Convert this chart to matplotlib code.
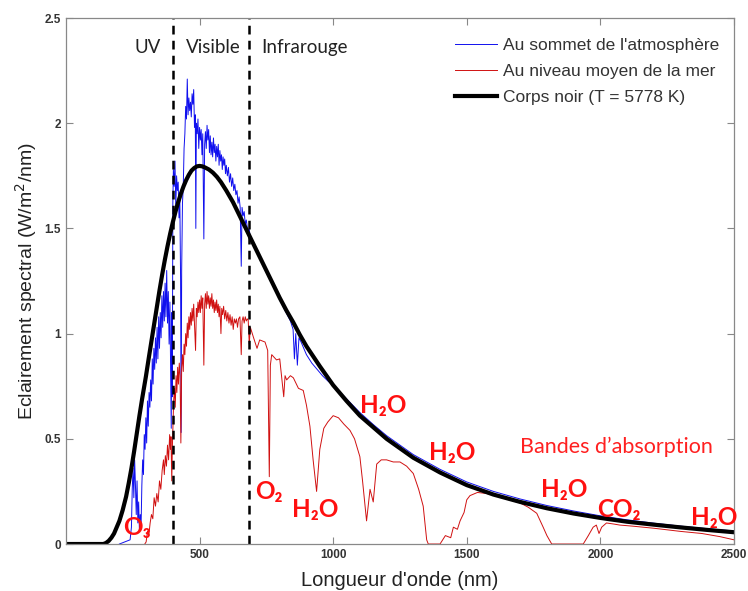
import numpy as np
import matplotlib.pyplot as plt

# corps noir
bb_nm = [0, 140, 150, 160, 170, 180, 190, 200, 212, 225, 235, 245, 255, 265, 275, 285, 299, 310, 320, 330,
         340, 350, 360, 370, 380, 390, 400, 410, 420, 430, 440, 450, 460, 470, 480, 490, 500, 510, 520, 535,
         550, 565, 580, 600, 625, 650, 675, 700, 725, 750, 775, 800, 825, 850, 875, 900, 950, 1000, 1050, 1100,
         1150, 1200, 1250, 1300, 1350, 1400, 1450, 1500, 1600, 1700, 1800, 1900, 2000, 2100, 2200, 2300,
         2400, 2500]
bb_val = [0, 0, 0.005, 0.015, 0.03, 0.05, 0.08, 0.11, 0.16, 0.225, 0.29, 0.36, 0.44, 0.525, 0.61, 0.69,
          0.795, 0.885, 0.965, 1.045, 1.125, 1.205, 1.28, 1.35, 1.415, 1.475, 1.53, 1.58, 1.625, 1.665, 1.70,
          1.73, 1.755, 1.775, 1.787, 1.795, 1.797, 1.795, 1.79, 1.78, 1.765, 1.745, 1.72, 1.68, 1.625, 1.56,
          1.495, 1.43, 1.365, 1.30, 1.235, 1.17, 1.11, 1.055, 0.995, 0.94, 0.845, 0.755, 0.68, 0.61, 0.555,
          0.50, 0.455, 0.41, 0.375, 0.34, 0.31, 0.28, 0.235, 0.20, 0.17, 0.145, 0.124, 0.106, 0.092, 0.079,
          0.067, 0.056]

# sommet de l'atmosphere
top_nm = [200, 240, 245, 248, 251, 254, 257, 260, 263, 266, 269, 272, 275, 278, 281, 284, 287, 290, 293, 296,
          299, 302, 305, 308, 311, 314, 317, 320, 323, 326, 329, 332, 335, 338, 341, 344, 347, 350, 353, 356,
          359, 362, 365, 368, 371, 374, 377, 380, 383, 386, 389, 392, 394, 396, 398,
          400, 402, 405, 408, 411, 414, 417, 420, 423, 426, 429, 431, 433, 436, 439, 442, 445, 448, 451, 454,
          457, 460, 463, 466, 469, 472, 475, 478, 481, 484, 486, 488, 491, 494, 497, 500, 503, 506, 509, 512,
          516, 519, 522, 525, 528, 531, 534, 537, 540, 543, 546, 549, 552, 555, 558, 561, 564, 567, 570, 573,
          576, 579, 582, 585, 588, 591, 594, 597, 600, 604, 608, 612, 616, 620, 624, 628, 632, 636, 640, 644,
          648, 652, 656, 659, 663, 667, 671, 675, 680, 686, 690, 695,
          700, 720, 740, 760, 780, 800, 820, 840, 850, 855, 860, 866, 872, 880, 890, 900, 920, 940, 960, 980,
          1000, 1050, 1100, 1150, 1200, 1250, 1300, 1400, 1500, 1600, 1700, 1800, 1900, 2000, 2100, 2200,
          2300, 2400, 2500]
top_val = [0.0, 0.02, 0.08, 0.26, 0.36, 0.22, 0.40, 0.28, 0.14, 0.30, 0.10, 0.20, 0.06, 0.14, 0.08, 0.28,
           0.40, 0.33, 0.52, 0.45, 0.60, 0.48, 0.68, 0.56, 0.72, 0.65, 0.78, 0.68, 0.88, 0.76, 0.93, 0.83,
           0.98, 0.86, 1.03, 0.88, 1.08, 0.93, 1.10, 0.98, 1.18, 1.03, 1.20, 1.06, 1.24, 1.08, 1.30, 1.05,
           1.20, 0.95, 1.15, 0.80, 0.55, 1.10, 0.70,
           1.62, 1.78, 1.70, 1.82, 1.60, 1.75, 1.68, 1.72, 1.55, 1.66, 1.25, 0.53, 1.30, 1.62, 1.70, 1.88,
           1.95, 2.08, 2.02, 2.21, 2.04, 2.12, 2.06, 2.10, 2.03, 2.14, 2.09, 2.16, 1.98, 2.04, 1.50, 2.00,
           1.95, 2.02, 1.88, 1.98, 1.92, 1.97, 1.85, 1.95, 1.45, 1.90, 1.96, 1.88, 1.99, 1.92, 1.97, 1.86,
           1.94, 1.85, 1.91, 1.84, 1.93, 1.86, 1.90, 1.82, 1.89, 1.84, 1.90, 1.80, 1.87, 1.82, 1.85, 1.78,
           1.84, 1.80, 1.83, 1.76, 1.80, 1.75, 1.79, 1.72, 1.76, 1.70, 1.74, 1.68, 1.71, 1.66, 1.68, 1.62,
           1.65, 1.60, 1.32, 1.60, 1.56, 1.58, 1.52, 1.54, 1.49, 1.50, 1.44, 1.45,
           1.43, 1.37, 1.32, 1.27, 1.22, 1.16, 1.11, 1.06, 1.02, 0.88, 1.00, 0.85, 0.98, 0.96, 0.93, 0.90,
           0.86, 0.83, 0.80, 0.775, 0.755, 0.69, 0.625, 0.568, 0.515, 0.47, 0.425, 0.355, 0.295, 0.25,
           0.214, 0.183, 0.157, 0.134, 0.115, 0.099, 0.085, 0.073, 0.062]

# niveau de la mer
sea_nm = [295, 300, 305, 310, 315, 320, 325, 330, 335, 340, 345, 350, 355, 360, 365, 368, 372, 376, 380, 384,
          388, 391, 393, 396, 398,
          400, 403, 406, 409, 412, 415, 418, 421, 424, 427, 430, 433, 436, 439, 442, 445, 448, 451, 454, 457,
          460, 463, 466, 469, 472, 475, 478, 481, 485, 488, 491, 494, 497, 500, 503, 506, 509, 512, 516, 519,
          522, 525, 528, 531, 534, 537, 540, 543, 546, 549, 552, 555, 558, 561, 564, 567, 570, 573, 576, 580,
          583, 586, 590, 594, 598, 602, 606, 610, 614, 618, 622, 626, 630, 634, 638, 642, 646, 651, 656, 659,
          663, 667, 671, 675, 679, 682, 686, 690,
          701, 715, 725, 745, 755, 761, 765, 770, 788, 800, 815, 820, 826, 840, 851, 870, 888, 900, 913, 925,
          938, 950, 965, 980, 1000, 1020, 1040, 1063, 1080, 1100, 1110, 1125, 1138, 1150, 1163, 1180, 1200,
          1225, 1250, 1275, 1300, 1320, 1337, 1350, 1356, 1400, 1420, 1440, 1450, 1465, 1475, 1490, 1500,
          1512, 1540, 1575, 1620, 1660, 1700, 1730, 1762, 1786, 1800, 1818, 1936, 1955, 1973, 1985, 1995,
          2005, 2023, 2050, 2073, 2120, 2200, 2300, 2380, 2448, 2500]
sea_val = [0.0, 0.01, 0.06, 0.04, 0.10, 0.14, 0.12, 0.22, 0.18, 0.24, 0.20, 0.30, 0.26, 0.35, 0.40, 0.33,
           0.42, 0.37, 0.47, 0.40, 0.52, 0.45, 0.51, 0.30, 0.45,
           0.55, 0.68, 0.74, 0.65, 0.80, 0.72, 0.84, 0.76, 0.86, 0.80, 0.48, 0.84, 0.90, 0.82, 0.95, 0.90,
           1.00, 0.94, 1.05, 0.98, 1.08, 1.02, 1.10, 1.04, 1.12, 1.06, 1.14, 1.05, 0.92, 1.12, 1.08, 1.15,
           1.10, 1.16, 1.10, 1.18, 1.12, 1.17, 0.85, 1.14, 1.19, 1.12, 1.20, 1.14, 1.18, 1.12, 1.17, 1.13,
           1.19, 1.12, 1.16, 1.10, 1.15, 1.11, 1.16, 1.10, 1.14, 1.08, 1.13, 1.00, 1.12, 1.09, 1.13, 1.07,
           1.11, 1.06, 1.10, 1.05, 1.09, 1.04, 1.08, 1.02, 1.07, 1.05, 1.07, 1.03, 1.07, 1.08, 0.90, 1.06,
           1.08, 1.05, 1.08, 1.06, 1.07, 1.065, 0.95, 1.03,
           0.985, 0.93, 0.97, 0.96, 0.92, 0.32, 0.85, 0.90, 0.875, 0.88, 0.70, 0.80, 0.78, 0.80, 0.79, 0.74,
           0.73, 0.66, 0.56, 0.40, 0.25, 0.45, 0.55, 0.58, 0.61, 0.60, 0.57, 0.54, 0.50, 0.415, 0.30, 0.11,
           0.26, 0.20, 0.38, 0.40, 0.40, 0.39, 0.39, 0.37, 0.335, 0.26, 0.18, 0.02, 0.0, 0.0, 0.04, 0.03,
           0.08, 0.07, 0.11, 0.15, 0.21, 0.23, 0.245, 0.24, 0.225, 0.21, 0.195, 0.175, 0.146, 0.08, 0.04,
           0.0, 0.0, 0.04, 0.08, 0.09, 0.05, 0.08, 0.10, 0.095, 0.09, 0.085, 0.075, 0.06, 0.05, 0.035, 0.02]

bands = ['O\u2083', 'O\u2082', 'H\u2082O', 'H\u2082O', 'H\u2082O', 'H\u2082O', 'CO\u2082', 'H\u2082O']
band_x = [266, 760, 932, 1186, 1445, 1864, 2070, 2425]
band_y = [0.08, 0.25, 0.166, 0.66, 0.437, 0.257, 0.166, 0.124]

fig = plt.figure(figsize=(7.48, 5.91), dpi=100)
ax = fig.add_axes([0.0882, 0.0795, 0.893, 0.890])

ax.plot(top_nm, top_val, color='#1010ee', lw=0.7, label="Au sommet de l'atmosphère")
ax.plot(sea_nm, sea_val, color='#d01010', lw=0.7, label='Au niveau moyen de la mer')
ax.plot(bb_nm, bb_val, color='black', lw=3, label='Corps noir (T = 5778 K)')

for xv in [400, 686]:
    ax.axvline(xv, color='black', lw=1.8, ls=(0, (3.5, 2.5)))

for txt, xv in zip(['UV', 'Visible', 'Infrarouge'], [307, 550, 894]):
    ax.text(xv, 2.36, txt, ha='center', va='center', fontsize=13.5, color='#222222',
            family=['Lato', 'DejaVu Sans'])

for txt, xv, yv in zip(bands, band_x, band_y):
    ax.text(xv, yv, txt, ha='center', va='center', fontsize=17.5, fontweight='bold', color='#ff1010',
            family=['Lato', 'DejaVu Sans'])
ax.text(2062, 0.46, 'Bandes d\u2019absorption', ha='center', va='center', fontsize=15.5, color='#ff2020',
        family=['Lato', 'DejaVu Sans'])

ax.set_xlim(0, 2500)
ax.set_ylim(0, 2.5)
ax.set_xticks([500, 1000, 1500, 2000, 2500])
ax.set_yticks([0, 0.5, 1, 1.5, 2, 2.5])
ax.set_yticklabels(['0', '0.5', '1', '1.5', '2', '2.5'])
ax.tick_params(direction='in', top=True, right=True, length=5, width=0.8, color='#888888',
               labelsize=8.5, labelcolor='#333333')
for lab in ax.get_xticklabels() + ax.get_yticklabels():
    lab.set_fontweight('bold')
    lab.set_family('Liberation Sans')
for s in ax.spines.values():
    s.set_color('#888888')
    s.set_linewidth(0.9)

ax.set_xlabel("Longueur d'onde (nm)", fontsize=14.5, color='#222222', labelpad=7, family='Liberation Sans')
ax.set_ylabel('Eclairement spectral (W/m$^2$/nm)', fontsize=14, color='#222222', labelpad=4,
              family='Liberation Sans')

leg = ax.legend(loc='upper left', bbox_to_anchor=(0.572, 0.975), frameon=False,
                prop={'family': 'Liberation Sans', 'size': 12.5},
                handlelength=2.4, handletextpad=0.35, labelspacing=0.62, borderaxespad=0)
for t in leg.get_texts():
    t.set_color('#333333')

fig.savefig('out.png', dpi=100)
